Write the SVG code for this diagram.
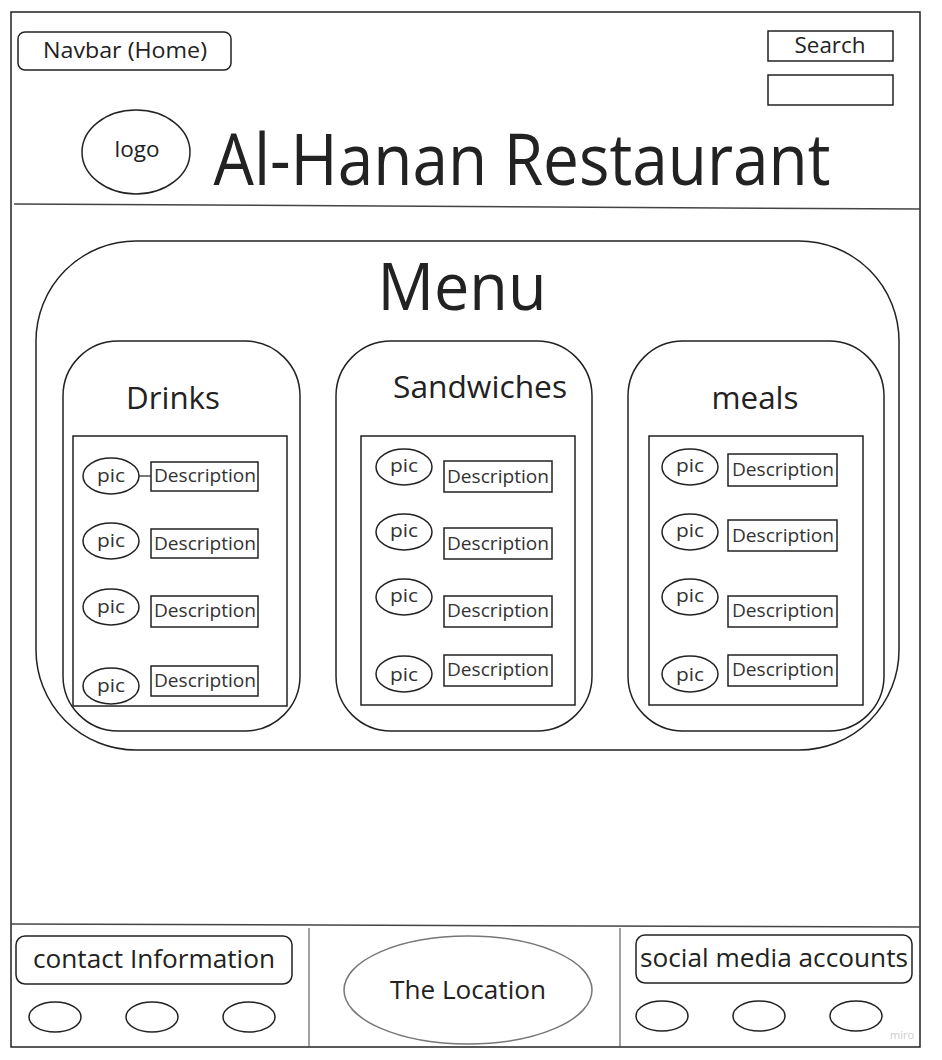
<svg xmlns="http://www.w3.org/2000/svg" width="942" height="1060" viewBox="0 0 942 1060">
<style>
.s{fill:none;stroke:#222;stroke-width:1.5}
.f{fill:#fff;stroke:#222;stroke-width:1.5}
.t{font-family:"Open Sans","Liberation Sans",sans-serif;fill:#222;text-anchor:middle;dominant-baseline:central}
.b{font-family:"Open Sans","Liberation Sans",sans-serif;fill:#222;text-anchor:middle}
.p{font-size:18px;fill:#333}
.d{font-size:18px;fill:#333}
</style>
<rect x="0" y="0" width="942" height="1060" fill="#fff"/>
<g id="frame">
<rect x="11" y="12" width="909" height="1035" class="s"/>
<line x1="14" y1="204" x2="920" y2="209" stroke="#444" stroke-width="1.5"/>
<line x1="11" y1="924" x2="920" y2="927" stroke="#444" stroke-width="1.5"/>
<line x1="309" y1="928" x2="309" y2="1047" stroke="#444" stroke-width="1"/>
<line x1="620" y1="928" x2="620" y2="1047" stroke="#444" stroke-width="1"/>
</g>
<g id="navbar">
<rect x="18" y="32" width="213" height="38" rx="7" class="f"/>
<text x="125" y="50" class="t" font-size="21" textLength="164" lengthAdjust="spacingAndGlyphs">Navbar (Home)</text>
</g>
<g id="search">
<rect x="768" y="31" width="125" height="30" class="f"/>
<text x="830" y="45" class="t" font-size="21" textLength="71" lengthAdjust="spacingAndGlyphs">Search</text>
</g>
<g id="search-input">
<rect x="768" y="75" width="125" height="30" class="f"/>
</g>
<g id="logo">
<ellipse cx="136" cy="152" rx="54" ry="42" class="f"/>
<text x="137" y="149" class="t" font-size="21" textLength="45" lengthAdjust="spacingAndGlyphs">logo</text>
</g>
<g id="title">
<text x="522" y="185" class="b" font-size="72" textLength="617" lengthAdjust="spacingAndGlyphs">Al-Hanan Restaurant</text>
</g>
<g id="menu">
<rect x="36" y="241" width="863" height="509" rx="100" class="f"/>
<text x="462" y="310" class="b" font-size="66" textLength="169" lengthAdjust="spacingAndGlyphs">Menu</text>
</g>
<g id="drinks">
<rect x="63" y="341" width="237" height="390" rx="55" class="f"/>
<text x="173" y="409" class="b" font-size="31" textLength="94" lengthAdjust="spacingAndGlyphs">Drinks</text>
<rect x="73" y="436" width="214" height="270" class="f"/>
<line x1="139" y1="476" x2="151" y2="476" stroke="#222" stroke-width="1.2"/>
<ellipse cx="111" cy="476" rx="28" ry="18" class="f"/>
<text x="111" y="475" class="t p" textLength="28" lengthAdjust="spacingAndGlyphs">pic</text>
<rect x="151" y="462" width="107" height="29" class="f"/>
<text x="205" y="475" class="t d" textLength="102" lengthAdjust="spacingAndGlyphs">Description</text>
<ellipse cx="111" cy="541" rx="28" ry="18" class="f"/>
<text x="111" y="540" class="t p" textLength="28" lengthAdjust="spacingAndGlyphs">pic</text>
<rect x="151" y="529" width="107" height="29" class="f"/>
<text x="205" y="543" class="t d" textLength="102" lengthAdjust="spacingAndGlyphs">Description</text>
<ellipse cx="111" cy="607" rx="28" ry="18" class="f"/>
<text x="111" y="606" class="t p" textLength="28" lengthAdjust="spacingAndGlyphs">pic</text>
<rect x="151" y="596" width="107" height="31" class="f"/>
<text x="205" y="610" class="t d" textLength="102" lengthAdjust="spacingAndGlyphs">Description</text>
<ellipse cx="111" cy="686" rx="28" ry="18" class="f"/>
<text x="111" y="685" class="t p" textLength="28" lengthAdjust="spacingAndGlyphs">pic</text>
<rect x="151" y="666" width="107" height="30" class="f"/>
<text x="205" y="680" class="t d" textLength="102" lengthAdjust="spacingAndGlyphs">Description</text>
</g>
<g id="sandwiches">
<rect x="336" y="341" width="256" height="390" rx="55" class="f"/>
<text x="480" y="398" class="b" font-size="31" textLength="174" lengthAdjust="spacingAndGlyphs">Sandwiches</text>
<rect x="361" y="436" width="214" height="269" class="f"/>
<ellipse cx="404" cy="467" rx="28" ry="18" class="f"/>
<text x="404" y="465" class="t p" textLength="28" lengthAdjust="spacingAndGlyphs">pic</text>
<rect x="444" y="461" width="108" height="31" class="f"/>
<text x="498" y="476" class="t d" textLength="102" lengthAdjust="spacingAndGlyphs">Description</text>
<ellipse cx="404" cy="532" rx="28" ry="18" class="f"/>
<text x="404" y="530" class="t p" textLength="28" lengthAdjust="spacingAndGlyphs">pic</text>
<rect x="444" y="528" width="108" height="31" class="f"/>
<text x="498" y="543" class="t d" textLength="102" lengthAdjust="spacingAndGlyphs">Description</text>
<ellipse cx="404" cy="597" rx="28" ry="18" class="f"/>
<text x="404" y="595" class="t p" textLength="28" lengthAdjust="spacingAndGlyphs">pic</text>
<rect x="444" y="596" width="108" height="31" class="f"/>
<text x="498" y="610" class="t d" textLength="102" lengthAdjust="spacingAndGlyphs">Description</text>
<ellipse cx="404" cy="674" rx="28" ry="18" class="f"/>
<text x="404" y="674" class="t p" textLength="28" lengthAdjust="spacingAndGlyphs">pic</text>
<rect x="444" y="655" width="108" height="31" class="f"/>
<text x="498" y="669" class="t d" textLength="102" lengthAdjust="spacingAndGlyphs">Description</text>
</g>
<g id="meals">
<rect x="628" y="341" width="256" height="390" rx="55" class="f"/>
<text x="755" y="409" class="b" font-size="31" textLength="87" lengthAdjust="spacingAndGlyphs">meals</text>
<rect x="649" y="436" width="214" height="269" class="f"/>
<ellipse cx="690" cy="467" rx="28" ry="18" class="f"/>
<text x="690" y="465" class="t p" textLength="28" lengthAdjust="spacingAndGlyphs">pic</text>
<rect x="728" y="454" width="109" height="32" class="f"/>
<text x="783" y="469" class="t d" textLength="102" lengthAdjust="spacingAndGlyphs">Description</text>
<ellipse cx="690" cy="532" rx="28" ry="18" class="f"/>
<text x="690" y="530" class="t p" textLength="28" lengthAdjust="spacingAndGlyphs">pic</text>
<rect x="728" y="520" width="109" height="31" class="f"/>
<text x="783" y="535" class="t d" textLength="102" lengthAdjust="spacingAndGlyphs">Description</text>
<ellipse cx="690" cy="597" rx="28" ry="18" class="f"/>
<text x="690" y="595" class="t p" textLength="28" lengthAdjust="spacingAndGlyphs">pic</text>
<rect x="728" y="596" width="109" height="31" class="f"/>
<text x="783" y="610" class="t d" textLength="102" lengthAdjust="spacingAndGlyphs">Description</text>
<ellipse cx="690" cy="674" rx="28" ry="18" class="f"/>
<text x="690" y="674" class="t p" textLength="28" lengthAdjust="spacingAndGlyphs">pic</text>
<rect x="728" y="655" width="109" height="31" class="f"/>
<text x="783" y="669" class="t d" textLength="102" lengthAdjust="spacingAndGlyphs">Description</text>
</g>
<g id="contact">
<rect x="16" y="936" width="276" height="48" rx="9" class="f"/>
<text x="154" y="958" class="t" font-size="25" textLength="242" lengthAdjust="spacingAndGlyphs">contact Information</text>
<ellipse cx="55" cy="1017" rx="26" ry="15" class="f"/>
<ellipse cx="152" cy="1017" rx="26" ry="15" class="f"/>
<ellipse cx="249" cy="1017" rx="26" ry="15" class="f"/>
</g>
<g id="location">
<ellipse cx="468" cy="990" rx="124" ry="54" fill="#fff" stroke="#777" stroke-width="1.5"/>
<text x="468" y="989" class="t" font-size="25" textLength="156" lengthAdjust="spacingAndGlyphs">The Location</text>
</g>
<g id="social">
<rect x="636" y="935" width="276" height="48" rx="9" class="f"/>
<text x="774" y="957" class="t" font-size="25" textLength="268" lengthAdjust="spacingAndGlyphs">social media accounts</text>
<ellipse cx="662" cy="1016" rx="26" ry="15" class="f"/>
<ellipse cx="759" cy="1016" rx="26" ry="15" class="f"/>
<ellipse cx="856" cy="1016" rx="26" ry="15" class="f"/>
</g>
<g id="watermark">
<text x="890" y="1039" font-family="Open Sans, sans-serif" font-size="11" fill="#ccc">miro</text>
</g>
<g id="connectors"></g>
</svg>
